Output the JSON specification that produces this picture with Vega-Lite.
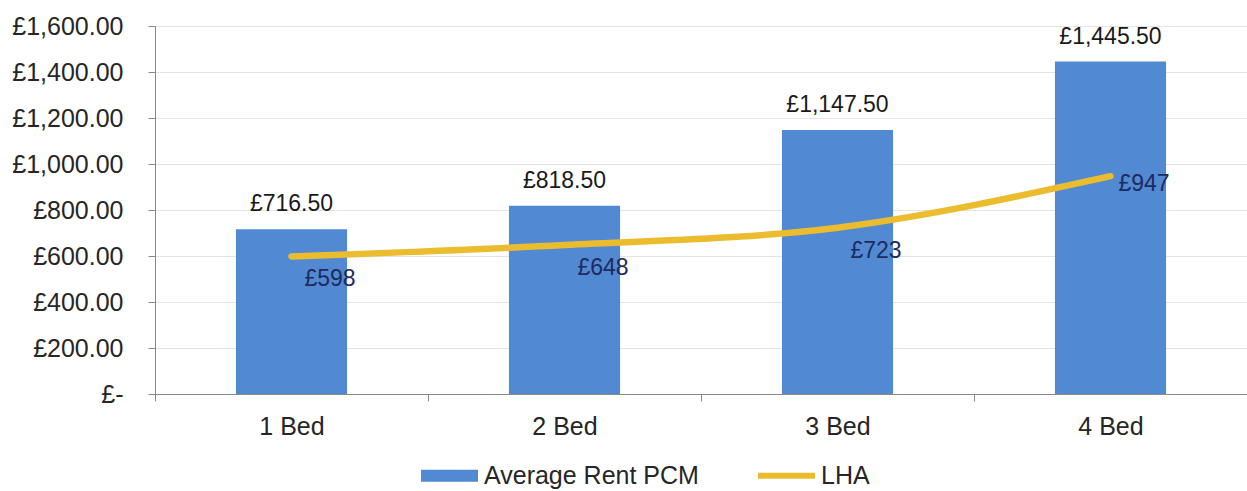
{
  "$schema": "https://vega.github.io/schema/vega-lite/v6.json",
  "autosize": {"type": "none"},
  "width": 1092,
  "height": 368,
  "padding": {"left": 155, "top": 26, "right": 0, "bottom": 97},
  "background": "white",
  "config": {
    "locale": {"number": {"decimal": ".", "thousands": ",", "grouping": [3], "currency": ["£", ""]}},
    "view": {"stroke": null},
    "font": "Liberation Sans",
    "text": {"font": "Liberation Sans"}
  },
  "data": {
    "values": [
      {"bed": "1 Bed", "rent": 716.5, "lha": 598},
      {"bed": "2 Bed", "rent": 818.5, "lha": 648},
      {"bed": "3 Bed", "rent": 1147.5, "lha": 723},
      {"bed": "4 Bed", "rent": 1445.5, "lha": 947}
    ]
  },
  "encoding": {
    "x": {
      "field": "bed", "type": "nominal", "sort": null,
      "scale": {"paddingInner": 0, "paddingOuter": 0},
      "axis": {
        "title": null, "labelAngle": 0, "labelFont": "Liberation Sans", "labelFontSize": 25,
        "labelColor": "#262626", "domainColor": "#8a8a8a", "tickColor": "#8a8a8a",
        "tickSize": 7, "tickBand": "extent", "labelPadding": 13, "grid": false
      }
    }
  },
  "layer": [
    {
      "mark": {"type": "bar", "width": {"band": 0.407}, "color": "#5189d3"},
      "encoding": {
        "y": {
          "field": "rent", "type": "quantitative",
          "scale": {"domain": [0, 1600], "nice": false},
          "axis": {
            "title": null, "values": [0, 200, 400, 600, 800, 1000, 1200, 1400, 1600],
            "labelExpr": "datum.value === 0 ? '£-' : '£' + format(datum.value, ',.2f')",
            "labelFont": "Liberation Sans", "labelFontSize": 25, "labelColor": "#262626",
            "labelPadding": 25, "tickSize": 7, "tickColor": "#8a8a8a", "domainColor": "#8a8a8a",
            "grid": true, "gridColor": "#e4e4e4", "gridWidth": 1
          }
        },
        "color": {
          "datum": "Average Rent PCM",
          "scale": {"domain": ["Average Rent PCM", "LHA"], "range": ["#5189d3", "#ebbd2e"]},
          "legend": {
            "orient": "none", "legendX": 266, "legendY": 437, "direction": "horizontal",
            "title": null, "symbolSize": 3249, "labelFont": "Liberation Sans", "labelFontSize": 25,
            "labelColor": "#262626", "labelOffset": 22, "symbolOffset": 16, "columnPadding": 47, "padding": 0,
            "labelLimit": 400,
            "encode": {
              "symbols": {
                "update": {
                  "shape": {"signal": "datum.value === 'LHA' ? 'M-1,0H1' : 'M-1,-0.21H1V0.21H-1Z'"},
                  "fill": {"signal": "datum.value === 'LHA' ? 'transparent' : '#5189d3'"},
                  "stroke": {"signal": "datum.value === 'LHA' ? '#ebbd2e' : 'transparent'"},
                  "strokeWidth": {"signal": "datum.value === 'LHA' ? 6 : 0"},
                  "opacity": {"value": 1}
                }
              }
            }
          }
        }
      }
    },
    {
      "mark": {"type": "text", "baseline": "alphabetic", "dy": -18, "fontSize": 23, "color": "#1a1a1a", "font": "Liberation Sans"},
      "encoding": {
        "y": {"field": "rent", "type": "quantitative"},
        "text": {"field": "rent", "type": "quantitative", "format": "$,.2f"}
      }
    },
    {
      "mark": {"type": "line", "interpolate": "monotone", "strokeWidth": 6.5, "strokeCap": "round", "strokeJoin": "round"},
      "encoding": {
        "y": {"field": "lha", "type": "quantitative"},
        "color": {"datum": "LHA"}
      }
    },
    {
      "transform": [{"filter": "datum.bed !== '4 Bed'"}],
      "mark": {"type": "text", "baseline": "alphabetic", "align": "left", "dx": 13, "dy": 30, "fontSize": 23, "color": "#1f2a5e", "font": "Liberation Sans"},
      "encoding": {
        "y": {"field": "lha", "type": "quantitative"},
        "text": {"field": "lha", "type": "quantitative", "format": "$,.0f"}
      }
    },
    {
      "transform": [{"filter": "datum.bed === '4 Bed'"}],
      "mark": {"type": "text", "baseline": "alphabetic", "align": "left", "dx": 8, "dy": 15, "fontSize": 23, "color": "#1f2a5e", "font": "Liberation Sans"},
      "encoding": {
        "y": {"field": "lha", "type": "quantitative"},
        "text": {"field": "lha", "type": "quantitative", "format": "$,.0f"}
      }
    }
  ]
}
